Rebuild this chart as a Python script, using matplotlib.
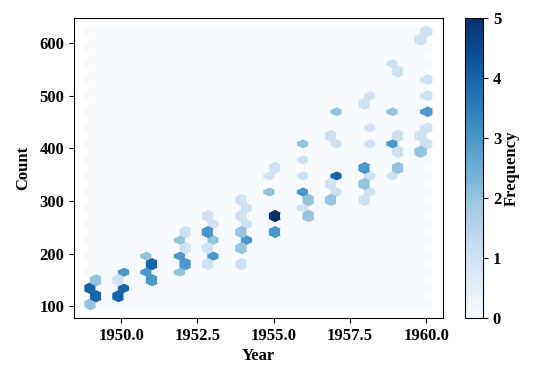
import matplotlib
matplotlib.use('Agg')
import numpy as np
import matplotlib.pyplot as plt

plt.rcParams['font.family'] = ['Liberation Serif', 'DejaVu Serif']
plt.rcParams['font.weight'] = 'bold'
plt.rcParams['axes.labelweight'] = 'bold'

years = [1949, 1950, 1951, 1952, 1953, 1954, 1955, 1956, 1957, 1958, 1959, 1960]

# monthly passenger counts, one list per year
y1949 = [112, 118, 132, 129, 121, 135, 148, 148, 136, 119, 104, 118]
y1950 = [115, 126, 141, 135, 125, 149, 170, 170, 158, 133, 114, 140]
y1951 = [145, 150, 178, 163, 172, 178, 199, 199, 184, 162, 146, 166]
y1952 = [171, 180, 193, 181, 183, 218, 230, 242, 209, 191, 172, 194]
y1953 = [196, 196, 236, 235, 229, 243, 264, 272, 237, 211, 180, 201]
y1954 = [204, 188, 235, 227, 234, 264, 302, 293, 259, 229, 203, 229]
y1955 = [242, 233, 267, 269, 270, 315, 364, 347, 312, 274, 237, 278]
y1956 = [284, 277, 317, 313, 318, 374, 413, 405, 355, 306, 271, 306]
y1957 = [315, 301, 356, 348, 355, 422, 465, 467, 404, 347, 305, 336]
y1958 = [340, 318, 362, 348, 363, 435, 491, 505, 404, 359, 310, 337]
y1959 = [360, 342, 406, 396, 420, 472, 548, 559, 463, 407, 362, 405]
y1960 = [417, 391, 419, 461, 472, 535, 622, 606, 508, 461, 390, 432]

counts = [y1949, y1950, y1951, y1952, y1953, y1954, y1955, y1956, y1957, y1958, y1959, y1960]
x = np.repeat(years, 12)
y = np.concatenate(counts)

fig = plt.figure(figsize=(5.35, 3.74), dpi=100)
ax = fig.add_axes([0.138, 0.150, 0.690, 0.802])
cax = fig.add_axes([0.869, 0.150, 0.034, 0.802])

# hexbin of year vs count
hb = ax.hexbin(x, y, gridsize=30, cmap='Blues', vmin=0, vmax=5)
ax.set_xlabel('Year', fontsize=12, fontweight='bold', labelpad=3)
ax.set_ylabel('Count', fontsize=12, fontweight='bold', labelpad=5.5)
ax.set_xticks([1950, 1952.5, 1955, 1957.5, 1960])
ax.set_xticklabels(['1950.0', '1952.5', '1955.0', '1957.5', '1960.0'])
ax.tick_params(labelsize=12)

cbar = fig.colorbar(hb, cax=cax)
cbar.set_label('Frequency', fontsize=12, fontweight='bold', labelpad=2)
cbar.set_ticks([0, 1, 2, 3, 4, 5])
cbar.ax.tick_params(labelsize=12)

fig.savefig('out.png', dpi=100)
